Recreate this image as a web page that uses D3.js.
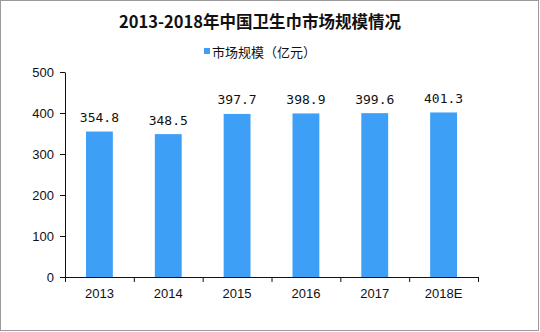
<!DOCTYPE html>
<html><head><meta charset="utf-8">
<script src="https://cdn.jsdelivr.net/npm/d3@7"></script>
<style>body{margin:0;background:#fff}svg{display:block}</style>
</head><body>
<script>
const categories = ["2013","2014","2015","2016","2017","2018E"];
const values = [354.8, 348.5, 397.7, 398.9, 399.6, 401.3];
const yTicks = [0,100,200,300,400,500];
const title = "2013-2018年中国卫生巾市场规模情况";
const seriesName = "市场规模（亿元）";

const W = 540, H = 332;
const svg = d3.select("body").append("svg").attr("width", W).attr("height", H);
svg.append("rect").attr("x",0.5).attr("y",0.5).attr("width",W-2).attr("height",H-2)
  .attr("fill","#fff").attr("stroke","#9a9a9a");

const m = {left:65, right:62, top:72, bottom:55};
const x = d3.scaleBand().domain(categories).range([m.left, W-m.right]).paddingInner(0.61).paddingOuter(0.305);
const y = d3.scaleLinear().domain([0,500]).range([H-m.bottom, m.top]);

svg.append("text").attr("x",260).attr("y",28).attr("text-anchor","middle")
  .attr("font-family","'Noto Sans CJK SC'").attr("font-weight","bold").attr("font-size",16.5)
  .attr("fill","#111").text(title);

svg.append("rect").attr("x",204).attr("y",48).attr("width",6).attr("height",6).attr("fill","#3d9ff5");
svg.append("text").attr("x",212).attr("y",57).attr("font-family","'Noto Sans CJK SC'")
  .attr("font-size",13).attr("fill","#111").text(seriesName);

svg.append("g").selectAll("rect").data(values).join("rect")
  .attr("x",(d,i)=>x(categories[i])).attr("width",x.bandwidth())
  .attr("y",d=>y(d)).attr("height",d=>y(0)-y(d)).attr("fill","#3d9ff5");

svg.append("g").selectAll("text").data(values).join("text")
  .attr("x",(d,i)=>x(categories[i])+x.bandwidth()/2).attr("y",d=>y(d)-9.5)
  .attr("text-anchor","middle").attr("font-family","'DejaVu Sans Mono'").attr("font-size",13)
  .attr("fill","#111").text(d=>d.toFixed(1));

const yAxis = svg.append("g").attr("transform",`translate(${m.left},0)`)
  .call(d3.axisLeft(y).tickValues(yTicks).tickSize(5).tickPadding(6).tickSizeOuter(0));
const xb = d3.scaleLinear().domain([0,categories.length]).range([m.left, W-m.right]);
const xAxis = svg.append("g").attr("transform",`translate(0,${y(0)})`)
  .call(d3.axisBottom(xb).tickValues(d3.range(categories.length+1)).tickSize(5).tickFormat("").tickSizeOuter(0));
svg.append("g").selectAll("text").data(categories).join("text")
  .attr("x",d=>x(d)+x.bandwidth()/2).attr("y",y(0)+21).attr("text-anchor","middle")
  .attr("font-family","'Liberation Sans'").attr("font-size",13).attr("fill","#111").text(d=>d);
[yAxis,xAxis].forEach(g=>{
  g.selectAll("path,line").attr("stroke","#111");
  g.selectAll("text").attr("font-family","'Liberation Sans'").attr("font-size",13).attr("fill","#111");
});
</script>
</body></html>
